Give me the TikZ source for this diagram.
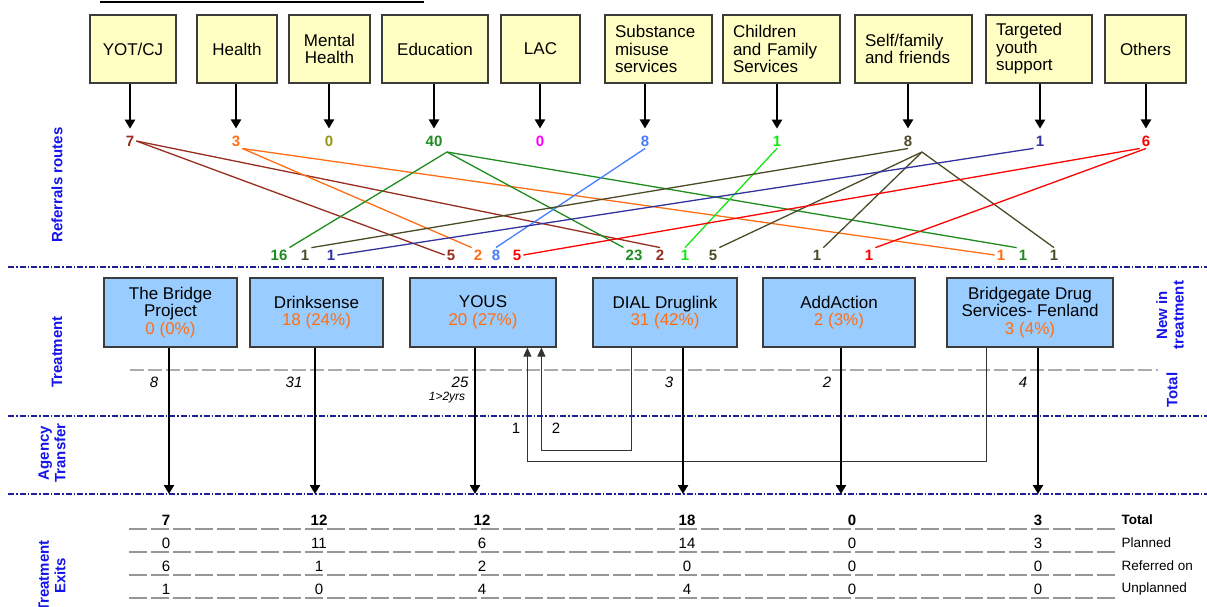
\documentclass[tikz,border=0pt]{standalone}
\usepackage{fontspec}
\setmainfont{Liberation Sans}
\usetikzlibrary{arrows.meta}

\definecolor{srcfill}{RGB}{255,255,196}
\definecolor{trtfill}{RGB}{153,204,255}
\definecolor{boxline}{RGB}{60,60,60}
\definecolor{sepblue}{RGB}{30,30,150}
\definecolor{labblue}{RGB}{20,20,235}
\definecolor{cmaroon}{RGB}{150,45,30}
\definecolor{corange}{RGB}{255,110,20}
\definecolor{colive}{RGB}{150,150,20}
\definecolor{cgreen}{RGB}{30,140,30}
\definecolor{cmagenta}{RGB}{255,0,255}
\definecolor{ccorn}{RGB}{70,125,255}
\definecolor{clime}{RGB}{20,230,20}
\definecolor{cdark}{RGB}{75,75,40}
\definecolor{cnavy}{RGB}{50,50,160}
\definecolor{cred}{RGB}{255,0,0}
\definecolor{dashgray}{RGB}{150,150,150}

\begin{document}
\begin{tikzpicture}[x=1pt,y=-1pt,
  srcbox/.style={draw=boxline,line width=1.2pt,fill=srcfill,inner sep=0pt,minimum height=68pt,align=center,font=\fontsize{17}{17.5}\selectfont},
  srcleft/.style={srcbox,inner xsep=10pt,align=left},
  trtbox/.style={draw=boxline,line width=1.2pt,fill=trtfill,inner sep=0pt,minimum height=69pt,align=center,font=\fontsize{17}{17.5}\selectfont},
  cnt/.style={font=\fontsize{15}{15}\selectfont\bfseries,inner sep=2pt},
  bigarrow/.style={line width=2.6pt,-{Triangle[width=10pt,length=9pt]}},
  route/.style={line width=1.3pt},
  xfer/.style={line width=1.2pt,draw=black!80,-{Triangle[width=8pt,length=9pt]}},
  sepline/.style={sepblue,line width=1.1pt,dash pattern=on 6pt off 2pt on 1.5pt off 2pt},
  rowline/.style={dashgray,line width=1.1pt,dash pattern=on 18pt off 4pt},
  sidelab/.style={labblue,rotate=90,align=center,font=\fontsize{15}{16.5}\selectfont\bfseries},
  tot/.style={font=\fontsize{15}{15}\selectfont\itshape},
  ex/.style={font=\fontsize{15}{15}\selectfont},
  exlab/.style={anchor=west,font=\fontsize{13.5}{14}\selectfont}]

\useasboundingbox (0,0) rectangle (1207,606);

\draw[line width=2pt] (100,1.5) -- (424,1.5);

% referral sources
\node[srcbox,minimum width=86pt] (yot) at (133,49) {YOT/CJ};
\node[srcbox,minimum width=80pt] (hea) at (237,49) {Health};
\node[srcbox,minimum width=81pt] (mhe) at (329.5,49) {Mental\\Health};
\node[srcbox,minimum width=106pt] (edu) at (435,49) {Education};
\node[srcbox,minimum width=79pt] (lac) at (540.5,49) {LAC};
\node[srcleft,text width=87pt] (sub) at (658.5,49) {Substance\\misuse\\services};
\node[srcleft,text width=97pt] (cfs) at (781.5,49) {Children\\and Family\\Services};
\node[srcleft,text width=97pt] (slf) at (913.5,49) {Self/family\\and friends};
\node[srcleft,text width=86pt] (tys) at (1039,49) {Targeted\\youth\\support};
\node[srcbox,minimum width=81pt] (oth) at (1145.5,49) {Others};

\node[cnt,cmaroon] (nyot) at (130,141) {7};
\node[cnt,corange] (nhea) at (236,141) {3};
\node[cnt,colive] (nmhe) at (329,141) {0};
\node[cnt,cgreen] (nedu) at (434,141) {40};
\node[cnt,cmagenta] (nlac) at (540,141) {0};
\node[cnt,ccorn] (nsub) at (645,141) {8};
\node[cnt,clime] (ncfs) at (777,141) {1};
\node[cnt,cdark] (nslf) at (908,141) {8};
\node[cnt,cnavy] (ntys) at (1040,141) {1};
\node[cnt,cred] (noth) at (1146,141) {6};

\foreach \s in {yot,hea,mhe,edu,lac,sub,cfs,slf,tys,oth}
  \draw[bigarrow,shorten >=5pt] (n\s |- \s.south) -- (n\s);

% where they went
\node[cnt,cgreen] (d16) at (279,255) {16};
\node[cnt,cdark] (d1a) at (305,255) {1};
\node[cnt,cnavy] (d1b) at (331,255) {1};
\node[cnt,cmaroon] (d5a) at (451,255) {5};
\node[cnt,corange] (d2a) at (478,255) {2};
\node[cnt,ccorn] (d8) at (496,255) {8};
\node[cnt,cred] (d5b) at (517,255) {5};
\node[cnt,cgreen] (d23) at (634,255) {23};
\node[cnt,cmaroon] (d2b) at (660,255) {2};
\node[cnt,clime] (d1c) at (685,255) {1};
\node[cnt,cdark] (d5c) at (713,255) {5};
\node[cnt,cdark] (d1d) at (817,255) {1};
\node[cnt,cred] (d1e) at (869,255) {1};
\node[cnt,corange] (d1f) at (1001,255) {1};
\node[cnt,cgreen] (d1g) at (1023,255) {1};
\node[cnt,cdark] (d1h) at (1054,255) {1};

\coordinate (aedu) at (447,152);
\coordinate (aslf) at (922,152);

\draw[route,cmaroon] (nyot.east) -- (d5a.west);
\draw[route,cmaroon] (nyot.east) -- (d2b.north);
\draw[route,corange] (nhea.south east) -- (d2a.north west);
\draw[route,corange] (nhea.south east) -- (d1f.west);
\draw[route,cgreen] (aedu) -- (d16.north east);
\draw[route,cgreen] (aedu) -- (d23.north west);
\draw[route,cgreen] (aedu) -- (d1g.north west);
\draw[route,ccorn] (nsub.south) -- (d8.north);
\draw[route,clime] (ncfs.south) -- (d1c.north);
\draw[route,cdark] (nslf.south) -- (d1a.north east);
\draw[route,cdark] (aslf) -- (d5c.north east);
\draw[route,cdark] (aslf) -- (d1d.north east);
\draw[route,cdark] (aslf) -- (d1h.north);
\draw[route,cnavy] (ntys.south west) -- (d1b.east);
\draw[route,cred] (noth.south west) -- (d5b.east);
\draw[route,cred] (noth.south) -- (d1e.north east);

% bands
\draw[sepline] (8,267) -- (1207,267);
\draw[sepline] (8,416) -- (1207,416);
\draw[sepline] (8,494) -- (1207,494);
\draw[dashgray!80,line width=1.1pt,dash pattern=on 14pt off 4pt] (130,370) -- (1158,370);

\node[sidelab] (lref) at (57,185) {Referrals routes};
\node[sidelab] (ltrt) at (57,352) {Treatment};
\node[sidelab] (lagt) at (52,453) {Agency\\Transfer};
\node[sidelab] (lexi) at (52,576) {Treatment\\Exits};
\node[sidelab] (lnew) at (1170,315) {New in\\treatment};
\node[sidelab] (ltot) at (1172,390) {Total};

% treatment
\node[trtbox,minimum width=133pt] (brg) at (170.5,312.5) {The Bridge\\Project\\{\color{corange}0 (0\%)}};
\node[trtbox,minimum width=133pt] (drk) at (316.5,312.5) {Drinksense\\{\color{corange}18 (24\%)}};
\node[trtbox,minimum width=146pt] (yus) at (483,312.5) {YOUS\\{\color{corange}20 (27\%)}};
\node[trtbox,minimum width=144pt] (dia) at (665,312.5) {DIAL Druglink\\{\color{corange}31 (42\%)}};
\node[trtbox,minimum width=152pt] (add) at (839,312.5) {AddAction\\{\color{corange}2 (3\%)}};
\node[trtbox,minimum width=166pt] (bgd) at (1030,312.5) {Bridgegate Drug\\Services- Fenland\\{\color{corange}3 (4\%)}};

\node[tot] (tbrg) at (154,382) {8};
\node[tot] (tdrk) at (294,382) {31};
\node[tot] (tyus) at (460,382) {25};
\node[tot,font=\fontsize{12}{12}\selectfont\itshape] (tyr) at (447,398) {1>2yrs};
\node[tot] (tdia) at (669,382) {3};
\node[tot] (tadd) at (827,382) {2};
\node[tot] (tbgd) at (1023,382) {4};

% transfers
\draw[xfer] ([xshift=39pt]dia.south west) -- ++(0,103) -| ([xshift=132pt]yus.south west);
\draw[xfer] ([xshift=40pt]bgd.south west) -- ++(0,114) -| ([xshift=118pt]yus.south west);
\node[ex] (x1) at (516,428) {1};
\node[ex] (x2) at (556,428) {2};

% exits
\coordinate (ebrg) at (169,494);
\coordinate (edrk) at (315,494);
\coordinate (eyus) at (475,494);
\coordinate (edia) at (683,494);
\coordinate (eadd) at (841,494);
\coordinate (ebgd) at (1038,494);
\draw[bigarrow] (ebrg |- brg.south) -- (ebrg);
\draw[bigarrow] (edrk |- drk.south) -- (edrk);
\draw[bigarrow] (eyus |- yus.south) -- (eyus);
\draw[bigarrow] (edia |- dia.south) -- (edia);
\draw[bigarrow] (eadd |- add.south) -- (eadd);
\draw[bigarrow] (ebgd |- bgd.south) -- (ebgd);

\draw[rowline] (129,529) -- (1115,529);
\draw[rowline] (129,552) -- (1115,552);
\draw[rowline] (129,575) -- (1115,575);
\draw[rowline] (129,598) -- (1115,598);

\node[ex,font=\fontsize{15}{15}\selectfont\bfseries] (tot1) at (166,520) {7};
\node[ex,font=\fontsize{15}{15}\selectfont\bfseries] (tot2) at (319,520) {12};
\node[ex,font=\fontsize{15}{15}\selectfont\bfseries] (tot3) at (482,520) {12};
\node[ex,font=\fontsize{15}{15}\selectfont\bfseries] (tot4) at (687,520) {18};
\node[ex,font=\fontsize{15}{15}\selectfont\bfseries] (tot5) at (852,520) {0};
\node[ex,font=\fontsize{15}{15}\selectfont\bfseries] (tot6) at (1038,520) {3};
\node[ex] (pln1) at (166,543) {0};
\node[ex] (pln2) at (319,543) {11};
\node[ex] (pln3) at (482,543) {6};
\node[ex] (pln4) at (687,543) {14};
\node[ex] (pln5) at (852,543) {0};
\node[ex] (pln6) at (1038,543) {3};
\node[ex] (ref1) at (166,566) {6};
\node[ex] (ref2) at (319,566) {1};
\node[ex] (ref3) at (482,566) {2};
\node[ex] (ref4) at (687,566) {0};
\node[ex] (ref5) at (852,566) {0};
\node[ex] (ref6) at (1038,566) {0};
\node[ex] (unp1) at (166,589) {1};
\node[ex] (unp2) at (319,589) {0};
\node[ex] (unp3) at (482,589) {4};
\node[ex] (unp4) at (687,589) {4};
\node[ex] (unp5) at (852,589) {0};
\node[ex] (unp6) at (1038,589) {0};

\node[exlab,font=\fontsize{13.5}{14}\selectfont\bfseries] (ltot2) at (1118,520) {Total};
\node[exlab] (lpln) at (1118,543) {Planned};
\node[exlab] (lref2) at (1118,566) {Referred on};
\node[exlab] (lunp) at (1118,589) {Unplanned};

\end{tikzpicture}
\end{document}
